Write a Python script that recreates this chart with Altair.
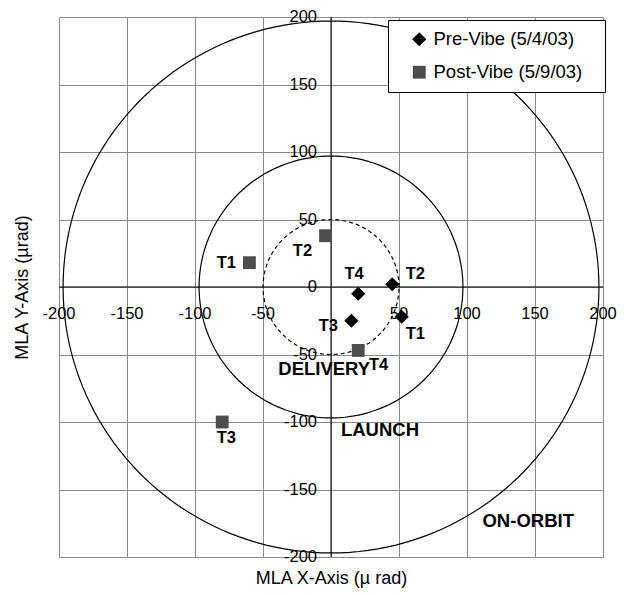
import altair as alt
import pandas as pd

# ---------------- data ----------------
series = ["Pre-Vibe (5/4/03)", "Post-Vibe (5/9/03)"]

pre_labels = ["T1", "T2", "T3", "T4"]
pre_x = [52, 45, 15, 20]
pre_y = [-22, 2, -25, -5]

post_labels = ["T1", "T2", "T3", "T4"]
post_x = [-60, -4, -80, 20]
post_y = [18, 38, -100, -47]

# data-label anchor points (data units)
pre_lab_x = [62, 62, -2, 17]
pre_lab_y = [-35, 10, -29, 10]
post_lab_x = [-77, -21, -77, 35]
post_lab_y = [18, 27, -112, -58]

circle_radii = [50, 97, 197]
circle_dashed = [True, False, False]

region_names = ["DELIVERY", "LAUNCH", "ON-ORBIT"]
region_x = [-5, 36, 145]
region_y = [-61, -106, -173]

tick_values = [-200, -150, -100, -50, 0, 50, 100, 150, 200]
x_label_values = [-200, -150, -100, -50, 50, 100, 150, 200]
y_label_values = [-200, -150, -100, -50, 0, 50, 100, 150, 200]

# ---------------- helpers ----------------
FONT = "Liberation Sans"
xs = alt.Scale(domain=[-200, 200], nice=False, zero=False)
ys = alt.Scale(domain=[-200, 200], nice=False, zero=False)

xaxis = alt.Axis(values=tick_values, grid=True, gridColor="#8a8a8a", gridWidth=1,
                 labels=False, ticks=False, domain=False,
                 title="MLA X-Axis (µ rad)", titleFont=FONT, titleFontSize=18,
                 titleFontWeight="normal", titleColor="black",
                 titleX=272, titleY=21, titleAlign="center", titleBaseline="middle")
yaxis = alt.Axis(values=tick_values, grid=True, gridColor="#8a8a8a", gridWidth=1,
                 labels=False, ticks=False, domain=False,
                 title="MLA Y-Axis (µrad)", titleFont=FONT, titleFontSize=18,
                 titleFontWeight="normal", titleColor="black",
                 titleX=-37, titleY=270, titleAlign="center", titleBaseline="middle",
                 titleAngle=270)


def X(f):
    return alt.X(f, type="quantitative", scale=xs, axis=xaxis)


def Y(f):
    return alt.Y(f, type="quantitative", scale=ys, axis=yaxis)


# ---------------- tables ----------------
points = pd.DataFrame({
    "x": pre_x + post_x,
    "y": pre_y + post_y,
    "series": [series[0]] * len(pre_x) + [series[1]] * len(post_x),
    "label": pre_labels + post_labels,
    "lx": pre_lab_x + post_lab_x,
    "ly": pre_lab_y + post_lab_y,
})
regions = pd.DataFrame({"name": region_names, "x": region_x, "y": region_y})
xlab = pd.DataFrame({"v": x_label_values, "txt": [str(v) for v in x_label_values],
                     "zero": [0] * len(x_label_values)})
ylab = pd.DataFrame({"v": y_label_values, "txt": [str(v) for v in y_label_values],
                     "zero": [0] * len(y_label_values)})
zero = pd.DataFrame({"zero": [0]})

# ---------------- layers ----------------
layers = []

# zero axis lines
layers.append(alt.Chart(zero).mark_rule(color="black", strokeWidth=1).encode(x=X("zero")))
layers.append(alt.Chart(zero).mark_rule(color="black", strokeWidth=1).encode(y=Y("zero")))

# requirement circles
for r, dashed in zip(circle_radii, circle_dashed):
    kw = dict(color="black", strokeWidth=1.2)
    if dashed:
        kw["strokeDash"] = [4, 3]
    c = (alt.Chart(alt.sequence(0, 362, 2, as_="deg"))
         .transform_calculate(cx=f"{r}*cos(datum.deg*PI/180)",
                              cy=f"{r}*sin(datum.deg*PI/180)")
         .mark_line(**kw)
         .encode(x=X("cx"), y=Y("cy"), order="deg:Q"))
    layers.append(c)

# tick labels at the crossing axes
layers.append(alt.Chart(xlab).mark_text(font=FONT, fontSize=16.5, color="black",
                                        align="center", baseline="middle", dy=27)
              .encode(x=X("v"), y=Y("zero"), text="txt:N"))
layers.append(alt.Chart(ylab).mark_text(font=FONT, fontSize=16.5, color="black",
                                        align="right", baseline="middle", dx=-14)
              .encode(x=X("zero"), y=Y("v"), text="txt:N"))

# points (legend box widened on the right by an invisible title spacer)
leg = alt.Legend(title=".", titleOrient="right", titleColor="white", titleFontSize=10,
                 titlePadding=10,
                 orient="none", legendX=329, legendY=3,
                 fillColor="white", strokeColor="black", padding=10,
                 labelFont=FONT, labelFontSize=18.5, labelColor="black",
                 rowPadding=14, symbolOffset=12, labelOffset=5)
layers.append(alt.Chart(points).mark_point(filled=True, opacity=1, strokeWidth=0).encode(
    x=X("x"), y=Y("y"),
    shape=alt.Shape("series:N", scale=alt.Scale(domain=series, range=["diamond", "square"]), legend=leg),
    color=alt.Color("series:N", scale=alt.Scale(domain=series, range=["black", "#4d4d4d"]), legend=leg),
    size=alt.Size("series:N", scale=alt.Scale(domain=series, range=[200, 165]), legend=leg),
))

# point labels
layers.append(alt.Chart(points).mark_text(font=FONT, fontSize=16.5, fontWeight="bold", color="black",
                                          align="center", baseline="middle")
              .encode(x=X("lx"), y=Y("ly"), text="label:N"))

# region labels
layers.append(alt.Chart(regions).mark_text(font=FONT, fontSize=18.5, fontWeight="bold", color="black",
                                           align="center", baseline="middle")
              .encode(x=X("x"), y=Y("y"), text="name:N"))

chart = (alt.layer(*layers)
         .properties(width=544, height=540,
                     padding={"left": 51, "top": 9, "right": 16, "bottom": 32},
                     autosize=alt.AutoSizeParams(type="none"))
         .configure_view(stroke="#555555", strokeWidth=1)
         .configure(background="white"))

chart.save("out.html", embed_options={"renderer": "svg", "actions": False})
